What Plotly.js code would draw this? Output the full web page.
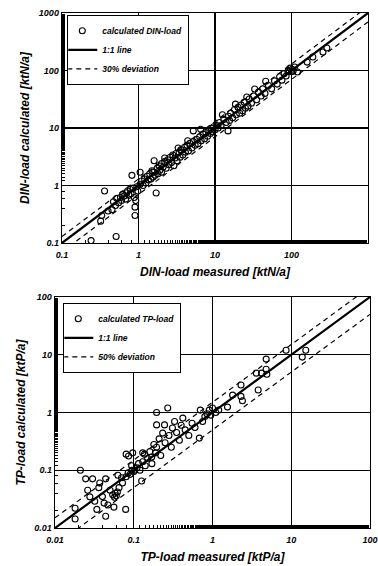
<!DOCTYPE html>
<html>
<head>
<meta charset="utf-8">
<script src="https://cdn.plot.ly/plotly-3.0.1.min.js"></script>
<style>html,body{margin:0;padding:0;background:#fff;}#chart{width:378px;height:566px;}</style>
</head>
<body>
<div id="chart"></div>
<script>
// ---- DIN-load (top panel) ----
const dinMeasured = [0.24,0.51,0.32,0.36,0.33,0.40,0.45,0.47,0.50,0.52,0.55,0.58,0.60,0.62,0.65,0.68,0.70,0.72,0.75,0.78,0.80,0.82,0.85,0.88,0.90,0.90,0.92,0.95,0.98,1.05,1.05,1.1,1.15,1.2,1.25,1.3,1.35,1.4,1.45,1.5,1.55,1.6,1.6,1.65,1.7,1.75,1.8,1.85,1.9,2.0,2.0,2.1,2.2,2.3,2.4,2.5,2.6,2.7,2.8,2.9,3.0,3.1,3.2,3.4,3.5,3.6,3.8,4.0,4.1,4.3,4.5,4.7,5.0,5.2,5.2,5.5,5.8,6.0,6.3,6.6,7.0,7.3,7.6,8.0,8.3,8.7,9.0,9.3,9.6,10,10.5,11,11.5,12,13,14,14.8,15,15.5,16,17,18,19,20,21,22,23,24,25,26,27,28,30,32,33,35,37,40,42,46,45,50,55,60,65,70,75,80,85,90,92,96,100,102,105,110,120,160,190,258,290,2.2,3.3,4.4,6.5,12.5,18.5];
const dinCalculated = [0.11,0.13,0.24,0.80,0.30,0.36,0.38,0.52,0.45,0.60,0.50,0.62,0.55,0.70,0.66,0.58,0.75,0.80,0.68,0.85,0.72,1.5,0.90,0.62,0.30,0.42,0.55,0.95,0.80,1.7,1.05,1.2,1.0,1.3,1.1,1.45,1.25,1.6,1.3,1.8,1.4,2.7,1.7,1.5,0.74,2.0,1.6,2.2,1.85,2.4,1.7,2.1,2.6,2.0,2.8,2.3,3.1,2.5,3.4,2.2,3.0,3.6,2.7,3.8,3.1,4.2,3.4,4.6,3.8,5.0,4.0,5.4,4.5,8.9,5.8,5.0,6.3,5.3,7.0,6.0,7.8,6.5,8.3,7.2,9.0,8.0,9.8,8.6,10.5,9.3,11,10,12.5,11,14,12.5,8.9,16,13.5,18,15,21,17,23,18,25,20,28,22,34.6,24,32,27,36,47.6,31,42,36,48,65,40,55,48,66,58,78,68,88,80,96,100,110,95,105,98,115,94,140,172,210,246,3.0,4.5,6.0,9.5,17,26];
const dinLineX = [0.1, 1000];
const dinDeviation = 0.3;

// ---- TP-load (bottom panel) ----
const tpMeasured = [0.018,0.018,0.021,0.0245,0.026,0.0277,0.030,0.032,0.034,0.036,0.037,0.040,0.042,0.044,0.044,0.047,0.050,0.054,0.056,0.057,0.058,0.060,0.062,0.063,0.065,0.07,0.072,0.079,0.08,0.085,0.086,0.09,0.094,0.095,0.1,0.103,0.11,0.115,0.12,0.126,0.13,0.137,0.14,0.15,0.16,0.169,0.17,0.18,0.19,0.195,0.195,0.195,0.21,0.22,0.233,0.246,0.25,0.27,0.28,0.30,0.31,0.33,0.35,0.38,0.40,0.42,0.45,0.5,0.55,0.6,0.68,0.70,0.75,0.8,0.85,0.91,0.95,1.0,1.1,1.2,1.55,1.8,2.3,2.4,2.3,3.8,3.6,4.2,4.9,4.8,4.8,8.6,13.8,15.3,0.08,0.097,0.13];
const tpCalculated = [0.022,0.0143,0.10,0.071,0.045,0.0346,0.071,0.029,0.021,0.05,0.06,0.035,0.027,0.071,0.016,0.025,0.045,0.0375,0.023,0.034,0.040,0.036,0.042,0.082,0.05,0.074,0.06,0.021,0.077,0.09,0.177,0.085,0.12,0.10,0.095,0.10,0.11,0.13,0.10,0.065,0.14,0.19,0.12,0.16,0.21,0.17,0.13,0.28,0.20,0.25,0.61,1.0,0.35,0.18,0.44,0.61,0.30,1.2,0.40,0.25,0.54,0.70,0.45,0.33,0.60,0.80,0.50,0.40,0.65,0.55,0.36,1.1,0.70,0.85,0.95,1.1,0.90,1.2,1.0,1.1,1.24,2.0,3.0,1.6,1.9,2.45,4.8,4.8,4.6,5.6,8.4,12,9.1,12,0.19,0.2,0.2];
const tpLineX = [0.01, 100];
const tpDeviation = 0.5;

// ---- tick labels ----
const dinTickVals = [0.1, 1, 10, 100, 1000];
const dinTickText = ["0.1", "1", "10", "100", "1000"];
const tpTickVals = [0.01, 0.1, 1, 10, 100];
const tpTickText = ["0.01", "0.1", "1", "10", "100"];

const FAM = "Liberation Sans, Arial, sans-serif";
const tickFont = {family: FAM, size: 9, color: "#000", weight: "bold", style: "italic"};
const titleFont = {family: FAM, size: 12, color: "#000", weight: "bold", style: "italic"};
const legFont = {family: FAM, size: 8.5, color: "#000", weight: "bold", style: "italic"};

function devLine(xs, dev, nm, xa, ya, leg) {
  const up = xs.map(v => v * (1 + dev));
  const lo = xs.map(v => v * (1 - dev));
  return {
    x: xs.concat([null]).concat(xs), y: up.concat([null]).concat(lo),
    mode: "lines", name: nm, xaxis: xa, yaxis: ya, legend: leg, legendrank: 3,
    line: {color: "#000", width: 1.2, dash: "5px,4px"}, connectgaps: false, hoverinfo: "skip"
  };
}

const traces = [
  devLine(dinLineX, dinDeviation, "30% deviation", "x", "y", "legend"),
  {x: dinLineX, y: dinLineX, mode: "lines", name: "1:1 line", xaxis: "x", yaxis: "y", legend: "legend", legendrank: 2,
   line: {color: "#000", width: 2.2}},
  {x: dinMeasured, y: dinCalculated, mode: "markers", name: "calculated DIN-load", xaxis: "x", yaxis: "y", legend: "legend", legendrank: 1,
   marker: {symbol: "circle-open", size: 6, color: "#000", line: {width: 1.1, color: "#000"}}},
  devLine(tpLineX, tpDeviation, "50% deviation", "x2", "y2", "legend2"),
  {x: tpLineX, y: tpLineX, mode: "lines", name: "1:1 line", xaxis: "x2", yaxis: "y2", legend: "legend2", legendrank: 2,
   line: {color: "#000", width: 2.2}},
  {x: tpMeasured, y: tpCalculated, mode: "markers", name: "calculated TP-load", xaxis: "x2", yaxis: "y2", legend: "legend2", legendrank: 1,
   marker: {symbol: "circle-open", size: 6, color: "#000", line: {width: 1.1, color: "#000"}}}
];

function ax(extra) {
  return Object.assign({
    type: "log", showline: true, mirror: true, linecolor: "#000", linewidth: 1.3,
    showgrid: true, gridcolor: "#000", gridwidth: 1.3, zeroline: false,
    ticks: "inside", ticklen: 4, tickcolor: "#000", tickwidth: 1,
    minor: {ticks: "inside", ticklen: 3, tickcolor: "#000", tickwidth: 1, showgrid: false},
    tickfont: tickFont, automargin: false
  }, extra);
}

const W = 378, H = 566;
const legBase = {xanchor: "left", yanchor: "top", bgcolor: "#fff", bordercolor: "#000", borderwidth: 1.3,
  font: legFont, tracegroupgap: 0, itemwidth: 30, indentation: -6};
const layout = {
  width: W, height: H,
  margin: {l: 0, r: 0, t: 0, b: 0},
  paper_bgcolor: "#fff", plot_bgcolor: "#fff",
  showlegend: true,
  xaxis: ax({domain: [62 / W, 368 / W], range: [-1, 3], anchor: "y", tickvals: dinTickVals, ticktext: dinTickText,
    ticklabelstandoff: 3, title: {text: "DIN-load measured [ktN/a]", font: titleFont, standoff: 8}}),
  yaxis: ax({domain: [1 - 243 / H, 1 - 13 / H], range: [-1, 3], anchor: "x", tickvals: dinTickVals, ticktext: dinTickText,
    title: {text: "DIN-load calculated [ktN/a]", font: titleFont, standoff: 6}}),
  xaxis2: ax({domain: [55 / W, 370 / W], range: [-2, 2], anchor: "y2", tickvals: tpTickVals, ticktext: tpTickText,
    ticklabelstandoff: 3, title: {text: "TP-load measured [ktP/a]", font: titleFont, standoff: 8}}),
  yaxis2: ax({domain: [1 - 528 / H, 1 - 297 / H], range: [-2, 2], anchor: "x2", tickvals: tpTickVals, ticktext: tpTickText,
    title: {text: "TP-load calculated [ktP/a]", font: titleFont, standoff: 6}}),
  legend: Object.assign({x: 67 / W, y: 1 - 15 / H}, legBase),
  legend2: Object.assign({x: 63 / W, y: 1 - 303 / H}, legBase)
};

Plotly.newPlot("chart", traces, layout, {displayModeBar: false, staticPlot: true});
</script>
</body>
</html>
